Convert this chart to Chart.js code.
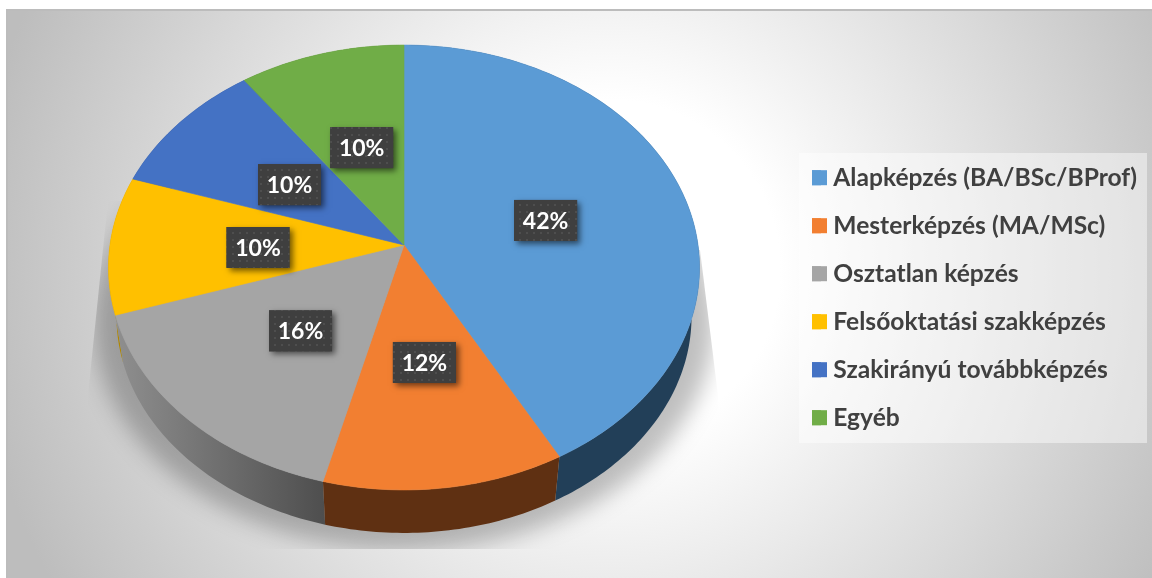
<!DOCTYPE html>
<html><head><meta charset="utf-8">
<style>html,body{margin:0;padding:0;background:#fff}canvas{display:block}#w{width:1152px;height:578px;position:relative}</style>
<script src="https://cdn.jsdelivr.net/npm/chart.js@4"></script></head>
<body><div id="w"><canvas id="c" width="1152" height="578"></canvas></div>
<script>
const categories=['Alapképzés (BA/BSc/BProf)','Mesterképzés (MA/MSc)','Osztatlan képzés','Felsőoktatási szakképzés','Szakirányú továbbképzés','Egyéb'];
const values=[42,12,16,10,10,10];
const topColors=['#5b9bd5','#f27f31','#a5a5a5','#ffc000','#4472c4','#70ad47'];
const wallColors=['#223f58','#5f3012','#6a6a6a','#b08800','#2a4478','#44682b'];

const AX=404,AY=245,RX=294,P=195.4,C=-0.1011,K=0.973,CY1=267.5,CY2=316.5;
// circle angle (Chart.js radians, 0 = right) + fraction of radius -> perspective top face
function proj(a,f){const u=Math.cos(a)*f,v=Math.sin(a)*f,d=1+C*v;return [AX+RX*u/d,(AY+P*v)/d];}
function low(p){return [AX+K*(p[0]-AX),CY2+K*(p[1]-CY1)];}
function samples(s,e){const n=Math.max(8,Math.ceil((e-s)*60)),o=[];for(let i=0;i<=n;i++)o.push(s+(e-s)*i/n);return o;}

const scene={id:'scene',
 beforeDraw(ch){
  const x=ch.ctx;x.save();
  x.fillStyle='#fff';x.fillRect(0,0,1152,578);
  const g=x.createRadialGradient(610,270,170,610,270,640);
  g.addColorStop(0,'#ffffff');g.addColorStop(1,'#bdbdbd');
  x.fillStyle=g;x.fillRect(6,9,1146,569);
  x.fillStyle='#bcbcbc';x.fillRect(6,9,1146,2);x.fillRect(6,9,2,569);
  // legend panel
  x.fillStyle='rgba(255,255,255,0.45)';x.fillRect(799,153,348,290);
  // cast shadow
  x.save();x.beginPath();
  x.moveTo(108,200);x.lineTo(88,395);x.lineTo(88,549);x.lineTo(718,549);x.lineTo(718,395);x.lineTo(700,250);x.closePath();x.clip();
  x.filter='blur(11px)';x.fillStyle='rgba(0,0,0,0.25)';
  x.beginPath();x.ellipse(404,322,310,228,0,0,Math.PI*2);x.fill();
  x.restore();
  x.restore();
 },
 beforeDatasetDraw(ch,args){
  const x=ch.ctx,arcs=args.meta.data;
  x.save();
  // side walls, back to front
  [3,4,5,2,0,1].forEach(i=>{
    const el=arcs[i],pts=samples(el.startAngle,el.endAngle).map(a=>proj(a,1));
    x.beginPath();
    pts.forEach((p,j)=>j?x.lineTo(p[0],p[1]):x.moveTo(p[0],p[1]));
    pts.slice().reverse().map(low).forEach(p=>x.lineTo(p[0],p[1]));
    x.closePath();
    if(i===2){const g=x.createLinearGradient(115,0,325,0);g.addColorStop(0,'#8f8f8f');g.addColorStop(1,'#4e4e4e');x.fillStyle=g;}
    else x.fillStyle=wallColors[i];
    x.fill();
  });
  // top faces
  arcs.forEach((el,i)=>{
    x.beginPath();x.moveTo(AX,AY);
    samples(el.startAngle,el.endAngle).forEach(a=>{const p=proj(a,1);x.lineTo(p[0],p[1]);});
    x.closePath();x.fillStyle=topColors[i];x.fill();
    x.strokeStyle=topColors[i];x.lineWidth=0.6;x.stroke();
  });
  x.restore();
  return false;
 },
 afterDatasetsDraw(ch){
  const x=ch.ctx,arcs=ch.getDatasetMeta(0).data;
  const pc=document.createElement('canvas');pc.width=pc.height=7;
  const q=pc.getContext('2d');q.fillStyle='#3f3f3f';q.fillRect(0,0,7,7);
  q.fillStyle='#4e4e4e';q.fillRect(1,1,2,2);
  const pat=x.createPattern(pc,'repeat');
  x.save();
  arcs.forEach((el,i)=>{
    const p=proj((el.startAngle+el.endAngle)/2,0.5);
    const cx=p[0]+1,cy=p[1]+2.5;
    const bx=cx-31.5,by=cy-20.5;
    x.save();
    x.shadowColor='rgba(0,0,0,0.55)';x.shadowBlur=6;x.shadowOffsetX=3;x.shadowOffsetY=3;
    x.fillStyle='#3f3f3f';x.fillRect(bx,by,63,41);
    x.restore();
    x.fillStyle=pat;x.fillRect(bx,by,63,41);
    x.fillStyle='#fff';x.font='bold 23px Lato';x.textAlign='center';x.textBaseline='middle';
    x.fillText(values[i]+'%',cx,cy+1);
  });
  x.restore();
 },
 afterDraw(ch){
  // swatches sit 6px from their text in the reference: widen the legend's own boxes
  const x=ch.ctx,l=ch.legend,pad=l.options.labels.padding;
  x.save();
  l.legendItems.forEach((it,i)=>{
    const h=l.legendHitBoxes[i];
    x.fillStyle=it.fillStyle;x.fillRect(l.left+pad,h.top+(h.height-15)/2,15,15);
  });
  x.restore();
 },
 afterLayout(ch){
  const l=ch.legend;const w=l.width,h=l.height;
  l.left=788.6;l.right=788.6+w;l.top=142;l.bottom=142+h;
  l.legendHitBoxes.forEach(b=>{b.left=0;});
  l.adjustHitBoxes();
 }
};
new Chart(document.getElementById('c'),{
 type:'pie',
 data:{labels:categories,datasets:[{data:values,backgroundColor:topColors,borderWidth:0}]},
 options:{responsive:false,animation:false,
  plugins:{tooltip:{enabled:false},
   legend:{display:true,position:'right',align:'start',
    labels:{boxWidth:9,boxHeight:15,padding:23.4,color:'#404040',font:{family:'Lato',size:24.6,weight:'bold'}}}}},
 plugins:[scene]
});
</script></body></html>
